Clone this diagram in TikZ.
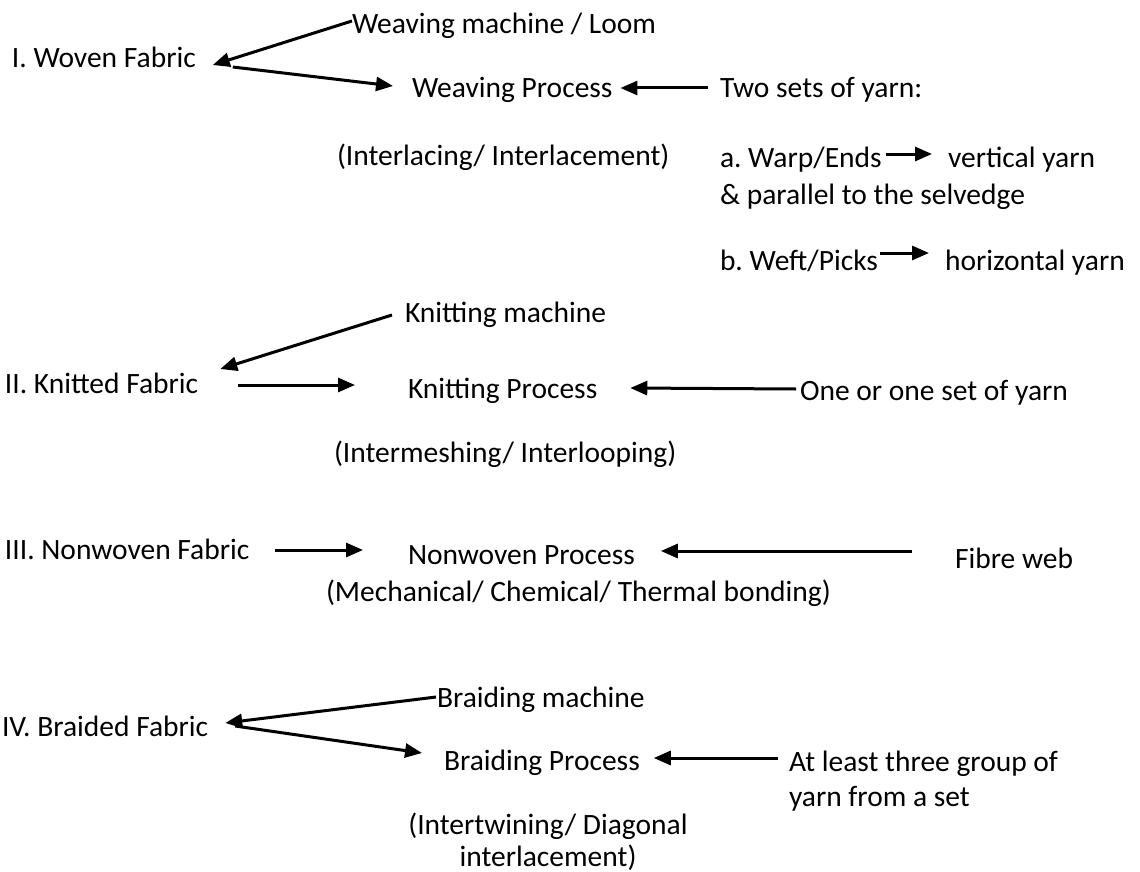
\documentclass[tikz,border=0pt]{standalone}
\usepackage{fontspec}
\setmainfont{Carlito}
\usetikzlibrary{arrows.meta}
\frenchspacing
\begin{document}
\begin{tikzpicture}[x=1pt,y=-1pt,
  txt/.style={font=\fontsize{29.5pt}{35pt}\selectfont, inner sep=0pt, outer sep=0pt, text height=20pt, text depth=0pt, anchor=west},
  multi/.style={font=\fontsize{29.5pt}{35pt}\selectfont, inner sep=0pt, outer sep=0pt},
  arr/.style={line width=3pt, -{Triangle[length=17pt,width=14pt]}}]
\fill[white] (0,0) rectangle (1140,872);
\useasboundingbox (0,0) rectangle (1140,872);
% Row I
\node[txt] (wm) at (352,24) {Weaving machine / Loom};
\node[txt] (wf) at (12,58) {I. Woven Fabric};
\node[txt] (wp) at (412,88) {Weaving Process};
\node[txt] (ts) at (720,88) {Two sets of yarn:};
\node[txt] (il) at (337,155) {(Interlacing/ Interlacement)};
\node[txt] (wa) at (720,157) {a. Warp/Ends};
\node[txt] (vy) at (948,157) {vertical yarn};
\node[txt] (par) at (720,194) {\& parallel to the selvedge};
\node[txt] (wb) at (720,260) {b. Weft/Picks};
\node[txt] (hy) at (945,260) {horizontal yarn};
% Row II
\node[txt] (km) at (405,312) {Knitting machine};
\node[txt] (kf) at (5,383) {II. Knitted Fabric};
\node[txt] (kp) at (408,388) {Knitting Process};
\node[txt] (one) at (800,390) {One or one set of yarn};
\node[txt] (im) at (334,452) {(Intermeshing/ Interlooping)};
% Row III
\node[txt] (nf) at (5,549) {III. Nonwoven Fabric};
\node[txt] (np) at (408,554) {Nonwoven Process};
\node[txt] (fw) at (955,558) {Fibre web};
\node[txt] (mech) at (326,591) {(Mechanical/ Chemical/ Thermal bonding)};
% Row IV
\node[txt] (bm) at (437,697) {Braiding machine};
\node[txt] (bf) at (2,726) {IV. Braided Fabric};
\node[txt] (bp) at (444,760) {Braiding Process};
\node[multi, align=left, anchor=west] (al) at (789,781) {At least three group of\\yarn from a set};
\node[multi, align=center, font=\fontsize{29.5pt}{32pt}\selectfont] (itw) at (548,842) {(Intertwining/ Diagonal\\interlacement)};
% Connectors Row I
\draw[arr] ([shift={(0,-3)}]wm.west) -- ([shift={(17,7)}]wf.east);
\draw[arr] ([shift={(37,9)}]wf.east) -- ([shift={(-19,-2)}]wp.west);
\draw[arr] ([shift={(-12,0)}]ts.west) -- ([shift={(8,0)}]wp.east);
\draw[arr] ([shift={(4,-3)}]wa.east) -- ([shift={(-16,-3)}]vy.west);
\draw[arr] ([shift={(2,-7)}]wb.east) -- ([shift={(-16,-7)}]hy.west);
% Row II
\draw[arr] ([shift={(-13,3)}]km.west) -- ([shift={(22,-14)}]kf.east);
\draw[arr] ([shift={(40,2)}]kf.east) -- ([shift={(-53,-3)}]kp.west);
\draw[arr] ([shift={(-4,-1)}]one.west) -- ([shift={(33,0)}]kp.east);
% Row III
\draw[arr] ([shift={(26,1)}]nf.east) -- ([shift={(-45,-4)}]np.west);
\draw[arr] ([shift={(-43,-7)}]fw.west) -- ([shift={(26,-3)}]np.east);
% Row IV
\draw[arr] ([shift={(-1,0)}]bm.west) -- ([shift={(17,-3)}]bf.east);
\draw[arr] ([shift={(27,0)}]bf.east) -- ([shift={(-22,-7)}]bp.west);
\draw[arr] ([shift={(-11,-23)}]al.west) -- ([shift={(14,-2)}]bp.east);
\end{tikzpicture}
\end{document}
